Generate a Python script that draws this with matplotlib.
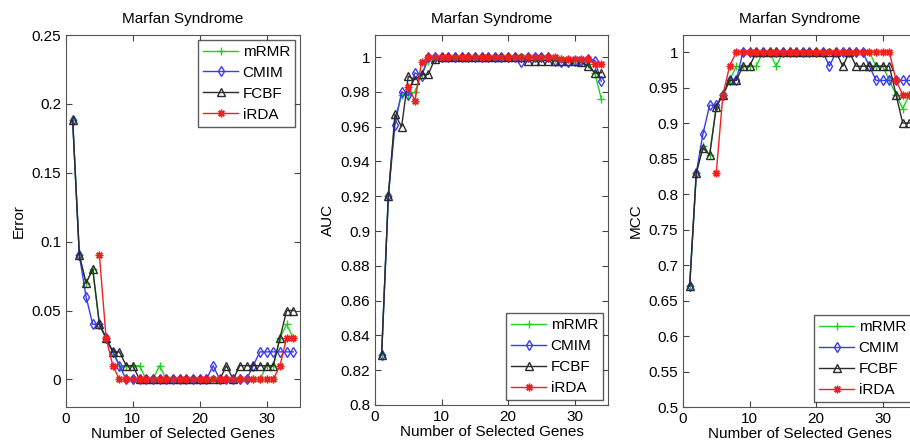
import matplotlib
matplotlib.use('Agg')
import matplotlib.pyplot as plt
from matplotlib.ticker import FuncFormatter

plt.rcParams['font.family'] = ['Liberation Sans', 'DejaVu Sans']
plt.rcParams['font.size'] = 11

# number of selected genes
genes = list(range(1, 35))
genes_irda = list(range(5, 35))

methods = ['mRMR', 'CMIM', 'FCBF', 'iRDA']

# --- Error ---
err_mrmr = [0.188, 0.09, 0.07, 0.08, 0.04, 0.03, 0.02, 0.01, 0.01, 0.01,
            0.01, 0, 0, 0.01, 0, 0, 0, 0, 0, 0,
            0, 0, 0, 0, 0, 0, 0, 0, 0, 0.01,
            0.01, 0.03, 0.04, 0.03]
err_cmim = [0.188, 0.09, 0.06, 0.04, 0.04, 0.03, 0.02, 0.01, 0, 0,
            0, 0, 0, 0, 0, 0, 0, 0, 0, 0,
            0, 0.01, 0, 0, 0, 0, 0, 0.01, 0.02, 0.02,
            0.02, 0.02, 0.02, 0.02]
err_fcbf = [0.188, 0.09, 0.07, 0.08, 0.04, 0.03, 0.02, 0.02, 0.01, 0.01,
            0, 0, 0, 0, 0, 0, 0, 0, 0, 0,
            0, 0, 0, 0.01, 0, 0.01, 0.01, 0.01, 0.01, 0.01,
            0.01, 0.03, 0.05, 0.05]
err_irda = [0.09, 0.03, 0.01, 0, 0, 0, 0, 0, 0, 0,
            0, 0, 0, 0, 0, 0, 0, 0, 0, 0,
            0, 0, 0, 0, 0, 0, 0, 0.01, 0.03, 0.03]

# --- AUC ---
auc_mrmr = [0.829, 0.92, 0.965, 0.978, 0.978, 0.98, 0.99, 0.998, 0.999, 1,
            1, 1, 1, 1, 1, 1, 1, 1, 1, 1,
            1, 1, 1, 1, 1, 1, 0.999, 0.999, 0.999, 0.998,
            0.998, 0.996, 0.991, 0.976]
auc_cmim = [0.829, 0.92, 0.961, 0.98, 0.978, 0.991, 0.989, 1, 1, 1,
            1, 1, 1, 1, 1, 1, 1, 1, 1, 1,
            1, 0.997, 1, 1, 1, 1, 0.998, 0.997, 0.997, 0.998,
            0.998, 0.999, 0.998, 0.986]
auc_fcbf = [0.829, 0.92, 0.967, 0.96, 0.989, 0.987, 0.99, 0.99, 0.999, 1,
            1, 1, 1, 1, 1, 1, 1, 1, 1, 1,
            1, 1, 0.998, 0.998, 0.998, 0.998, 0.998, 0.998, 0.998, 0.998,
            0.997, 0.995, 0.991, 0.991]
auc_irda = [0.983, 0.975, 0.997, 1, 1, 1, 1, 1, 1, 1,
            1, 1, 1, 1, 1, 1, 1, 1, 1, 1,
            1, 1, 1, 0.999, 0.999, 0.999, 0.999, 0.999, 0.996, 0.996]

# --- MCC ---
mcc_mrmr = [0.67, 0.83, 0.867, 0.855, 0.923, 0.94, 0.96, 0.98, 0.98, 0.98,
            0.98, 1, 1, 0.98, 1, 1, 1, 1, 1, 1,
            1, 1, 1, 1, 1, 1, 1, 1, 0.98, 0.98,
            0.96, 0.94, 0.92, 0.94]
mcc_cmim = [0.67, 0.83, 0.885, 0.925, 0.925, 0.94, 0.96, 0.96, 1, 1,
            1, 1, 1, 1, 1, 1, 1, 1, 1, 1,
            1, 0.98, 1, 1, 1, 1, 1, 0.98, 0.96, 0.96,
            0.96, 0.96, 0.96, 0.96]
mcc_fcbf = [0.67, 0.83, 0.865, 0.855, 0.923, 0.94, 0.96, 0.96, 0.98, 0.98,
            1, 1, 1, 1, 1, 1, 1, 1, 1, 1,
            1, 1, 1, 0.98, 1, 0.98, 0.98, 0.98, 0.98, 0.98,
            0.98, 0.94, 0.90, 0.90]
mcc_irda = [0.83, 0.94, 0.98, 1, 1, 1, 1, 1, 1, 1,
            1, 1, 1, 1, 1, 1, 1, 1, 1, 1,
            1, 1, 1, 1, 1, 1, 1, 0.96, 0.94, 0.94]

colors = ['#22d022', '#3a3af0', '#2b2b2b', '#f02020']
markers = ['+', 'd', '^', (8, 2, 0)]
msizes = [6, 5.5, 6, 5.5]


def draw(ax, series, ylabel, ylim, yticks, legend_loc):
    xs = [genes, genes, genes, genes_irda]
    for x, y, c, m, ms, name in zip(xs, series, colors, markers, msizes, methods):
        ax.plot(x, y, color=c, marker=m, markersize=ms, linewidth=1,
                markerfacecolor='none', markeredgecolor=c,
                markeredgewidth=1, label=name)
    ax.set_xlim(0, 35)
    ax.set_ylim(*ylim)
    ax.set_xticks([0, 10, 20, 30])
    ax.set_yticks(yticks)
    ax.yaxis.set_major_formatter(FuncFormatter(lambda v, p: '%g' % round(v, 3)))
    ax.tick_params(direction='in', top=True, right=True, length=4,
                   labelsize=11, color='#444444')
    for s in ax.spines.values():
        s.set_color('#555555')
    ax.set_title('Marfan Syndrome', fontsize=11, pad=9)
    ax.set_xlabel('Number of Selected Genes', fontsize=11, labelpad=1)
    ax.set_ylabel(ylabel, fontsize=11)
    leg = ax.legend(loc=legend_loc, fontsize=11, fancybox=False,
                    handlelength=2.3, handletextpad=0.3, borderpad=0.35,
                    labelspacing=0.45, borderaxespad=0.3)
    leg.get_frame().set_edgecolor('#333333')
    leg.get_frame().set_linewidth(1)


fig = plt.figure(figsize=(9.1, 4.48), dpi=100)
W, H = 910.0, 448.0

ax1 = fig.add_axes([66 / W, (H - 407) / H, 234 / W, 372 / H])
draw(ax1, [err_mrmr, err_cmim, err_fcbf, err_irda], 'Error',
     (-0.02, 0.25), [0, 0.05, 0.1, 0.15, 0.2, 0.25], 'upper right')

ax2 = fig.add_axes([375 / W, (H - 405) / H, 233 / W, 370 / H])
draw(ax2, [auc_mrmr, auc_cmim, auc_fcbf, auc_irda], 'AUC',
     (0.8, 1.0127), [0.8, 0.82, 0.84, 0.86, 0.88, 0.9, 0.92, 0.94, 0.96, 0.98, 1],
     'lower right')

ax3 = fig.add_axes([683 / W, (H - 407) / H, 233 / W, 372 / H])
draw(ax3, [mcc_mrmr, mcc_cmim, mcc_fcbf, mcc_irda], 'MCC',
     (0.5, 1.024), [0.5, 0.55, 0.6, 0.65, 0.7, 0.75, 0.8, 0.85, 0.9, 0.95, 1],
     'lower right')

fig.savefig('out.png', dpi=100)
